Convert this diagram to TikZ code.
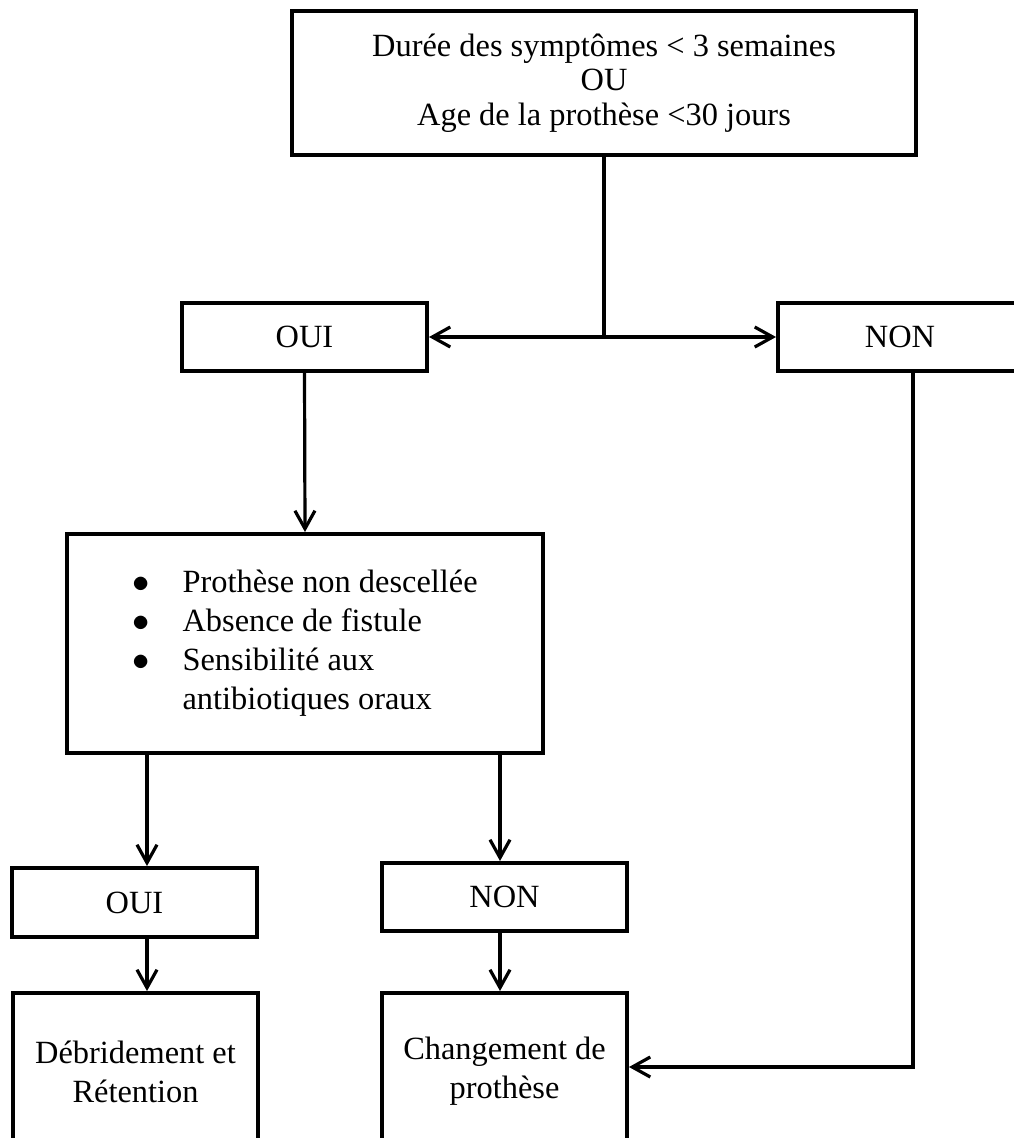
\documentclass[tikz,border=0pt]{standalone}
\usepackage{fontspec}
\setmainfont{Liberation Serif}
\usetikzlibrary{arrows.meta}
\tikzset{box/.style={draw=black,line width=2pt,inner sep=0pt,align=center,
   font=\fontsize{16.2}{19.5}\selectfont},
 link/.style={draw=black,line width=1.6pt,-{Straight Barb[length=9pt,width=10pt]}},
 bar/.style={draw=black,line width=1.6pt}}

\begin{document}
\begin{tikzpicture}[x=0.5pt,y=-0.5pt]
\useasboundingbox (0,0) rectangle (1013,1138);
\node[box,minimum width=312pt,minimum height=72pt,font=\fontsize{16.2}{17.2}\selectfont] (crit) at (604,83)
  {Durée des symptômes < 3 semaines\\OU\\Age de la prothèse <30 jours};
\node[box,minimum width=122.5pt,minimum height=34pt] (oui1) at (304.5,337) {OUI};
\node[box,minimum width=122pt,minimum height=34pt] (non1) at (900,337) {NON};
\node[box,minimum width=238pt,minimum height=109.5pt] (list) at (305,643.5)
  {\begin{tabular}{@{}l@{\hspace{16.5pt}}l@{}}
   $\bullet$ & Prothèse non descellée\\
   $\bullet$ & Absence de fistule\\
   $\bullet$ & Sensibilité aux\\
   & antibiotiques oraux
   \end{tabular}};
\node[box,minimum width=122.5pt,minimum height=34.5pt] (oui2) at (134.5,902.5) {OUI};
\node[box,minimum width=122.5pt,minimum height=34pt] (non2) at (504.5,897) {NON};
\node[box,minimum width=122.5pt,minimum height=78.5pt] (debr) at (135.5,1071.5) {Débridement et\\Rétention};
\node[box,minimum width=122.5pt,minimum height=78.5pt] (chg) at (504.5,1071.5) {Changement de\\prothèse};
\coordinate (split) at (604,337);
\coordinate (a1) at (147,0);
\coordinate (a2) at (500,0);
\coordinate (corner) at (913,1067);
\draw[bar] (crit.south) -- (split);
\draw[link] (split) -- (oui1.east);
\draw[link] (split) -- (non1.west);
\draw[link] (oui1.south) -- (list.north);
\draw[link] (list.south -| a1) -- (oui2.north -| a1);
\draw[link] (list.south -| a2) -- (non2.north -| a2);
\draw[link] (oui2.south -| a1) -- (debr.north -| a1);
\draw[link] (non2.south -| a2) -- (chg.north -| a2);
\draw[link] (non1.south -| corner) -- (corner) -- (chg.east |- corner);
\end{tikzpicture}
\end{document}
